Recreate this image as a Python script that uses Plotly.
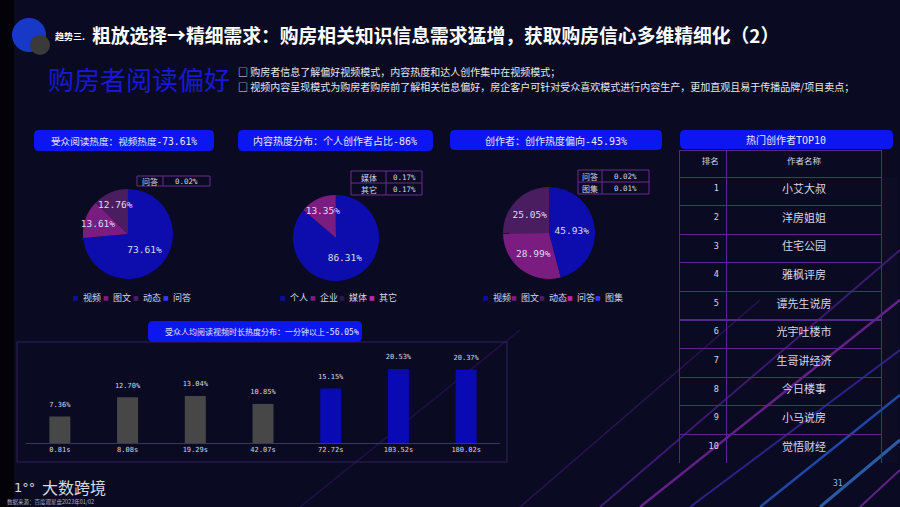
import plotly.graph_objects as go

# ---- data ----
pie1_labels = ["视频", "图文", "动态", "问答"]
pie1_values = [73.61, 13.61, 12.76, 0.02]

pie2_labels = ["个人", "企业", "媒体", "其它"]
pie2_values = [86.31, 13.35, 0.17, 0.17]

pie3_labels = ["视频", "图文", "动态", "问答", "图集"]
pie3_values = [45.93, 28.99, 25.05, 0.02, 0.01]

dur_labels = ["0.81s", "8.08s", "19.29s", "42.07s", "72.72s", "103.52s", "180.02s"]
dur_seconds = [0.81, 8.08, 19.29, 42.07, 72.72, 103.52, 180.02]
dur_values = [7.36, 12.70, 13.04, 10.85, 15.15, 20.53, 20.37]

top_rank = ["1", "2", "3", "4", "5", "6", "7", "8", "9", "10"]
top_names = ["小艾大叔", "洋房姐姐", "住宅公园", "雅枫评房", "谭先生说房",
             "光宇吐楼市", "生哥讲经济", "今日楼事", "小马说房", "觉悟财经"]

# ---- styles ----
W, H = 900, 507
BG = "#0a0b22"
BOX = "#0b16f0"
LINE = "#55288a"
TXT = "#d6d6ea"
MONO = "DejaVu Sans Mono, Noto Sans CJK SC"
CJK = "Noto Sans CJK SC"

slice_colors = {"视频": "#0d0dae", "图文": "#7b1c80", "动态": "#4a1c60",
                "问答": "#3535ff", "个人": "#0d0dae", "企业": "#7b1c80",
                "媒体": "#2a1850", "其它": "#c21fb8", "图集": "#3535ff"}
pie3_colors = ["#0d0dae", "#7b1c80", "#4a1c60", "#c21fb8", "#3535ff"]


def px(x):
    return x / W


def py(y):
    return 1 - y / H


def rrect(x0, y0, x1, y1, r=5):
    X0, X1, Y0, Y1 = px(x0), px(x1), py(y0), py(y1)
    rx, ry = r / W, r / H
    return (f"M{X0+rx},{Y0} L{X1-rx},{Y0} Q{X1},{Y0} {X1},{Y0-ry} "
            f"L{X1},{Y1+ry} Q{X1},{Y1} {X1-rx},{Y1} L{X0+rx},{Y1} "
            f"Q{X0},{Y1} {X0},{Y1+ry} L{X0},{Y0-ry} Q{X0},{Y0} {X0+rx},{Y0} Z")


fig = go.Figure()
shapes = []
annos = []


def text(x, y, s, size=9, color=TXT, family=CJK, xanchor="center", **kw):
    annos.append(dict(x=px(x), y=py(y), xref="paper", yref="paper", text=s,
                      showarrow=False, xanchor=xanchor, yanchor="middle",
                      font=dict(size=size, color=color, family=family), **kw))


# background decoration
shapes.append(dict(type="rect", xref="paper", yref="paper", x0=0, x1=px(14), y0=0, y1=1,
                   fillcolor="#020208", line_width=0, layer="below"))
streaks = [((600, 507), (900, 250), "#7a2ad0", 0.45, 2),
           ((640, 507), (900, 300), "#b030e0", 0.55, 2.5),
           ((690, 507), (900, 350), "#5a3cff", 0.45, 2),
           ((760, 507), (900, 395), "#3070ff", 0.6, 2.5),
           ((820, 507), (900, 440), "#4090ff", 0.6, 3),
           ((520, 507), (760, 300), "#6a20b0", 0.35, 1.5),
           ((300, 507), (520, 330), "#4a1890", 0.35, 1.5),
           ((860, 507), (900, 470), "#a030d0", 0.6, 2)]
for (xa, ya), (xb, yb), c, op, w in streaks:
    shapes.append(dict(type="line", xref="paper", yref="paper", x0=px(xa), y0=py(ya),
                       x1=px(xb), y1=py(yb), line=dict(color=c, width=w),
                       opacity=op, layer="below"))

# header
shapes.append(dict(type="circle", xref="paper", yref="paper", x0=px(12), x1=px(46),
                   y0=py(52), y1=py(18), fillcolor="#1838c8", line_width=0))
shapes.append(dict(type="circle", xref="paper", yref="paper", x0=px(30), x1=px(50),
                   y0=py(55), y1=py(35), fillcolor="#3a3a3a", line_width=0))
text(53, 36, "<b>趋势三.</b>", size=9, color="#ffffff", xanchor="left")
text(90, 34, "<b>粗放选择→精细需求：购房相关知识信息需求猛增，获取购房信心多维精细化（2）</b>",
     size=18.8, color="#ffffff", xanchor="left")
text(46, 78, "购房者阅读偏好", size=26, color="#1818d8", xanchor="left")
text(236, 71, "□ 购房者信息了解偏好视频模式，内容热度和达人创作集中在视频模式；",
     size=10, color="#e8e8f0", xanchor="left")
text(236, 86.5, "□ 视频内容呈现模式为购房者购房前了解相关信息偏好，房企客户可针对受众喜欢模式进行内容生产，更加直观且易于传播品牌/项目卖点；",
     size=10, color="#e8e8f0", xanchor="left")

# title boxes
boxes = [((34, 130, 214, 151), "受众阅读热度：视频热度-73.61%", 124, 9.6),
         ((238, 130, 433, 151), "内容热度分布：个人创作者占比-86%", 335, 10),
         ((450, 130, 662, 150), "创作者：创作热度偏向-45.93%", 556, 10),
         ((680, 130, 893, 149), "热门创作者TOP10", 786, 10),
         ((148, 321, 362, 342), "受众人均阅读视频时长热度分布：一分钟以上-56.05%", 262, 8)]
for (x0, y0, x1, y1), s, xc, fs in boxes:
    shapes.append(dict(type="path", xref="paper", yref="paper", path=rrect(x0, y0, x1, y1),
                       fillcolor=BOX, line_width=0))
    text(xc, (y0 + y1) / 2 + 0.5, s, size=fs, color="#e8e8ff", family=MONO)

# pies
pies = [(pie1_labels, pie1_values, [slice_colors[l] for l in pie1_labels], (128, 234, 45)),
        (pie2_labels, pie2_values, [slice_colors[l] for l in pie2_labels], (336, 238, 43)),
        (pie3_labels, pie3_values, pie3_colors, (549, 233, 46))]
for labels, values, colors, (cx, cy, r) in pies:
    fig.add_trace(go.Pie(
        labels=labels, values=values, sort=False, direction="clockwise", rotation=0,
        marker=dict(colors=colors, line=dict(width=0)),
        text=[f"{v:.2f}%" if v > 1 else "" for v in values], textinfo="text",
        textposition="inside", insidetextorientation="horizontal",
        textfont=dict(family=MONO, size=9.5, color="#dcdcf5"),
        domain=dict(x=[px(cx - r), px(cx + r)], y=[py(cy + r), py(cy - r)]),
        showlegend=False, hoverinfo="label+value"))

# legends under the pies
legend_start = [76, 283, 486]
legend_step = [30, 29.5, 28]
for (labels, values, colors, _), x0, step in zip(pies, legend_start, legend_step):
    for i, (lab, c) in enumerate(zip(labels, colors)):
        xm = x0 + i * step
        text(xm, 297, "■", size=6, color=c, family="DejaVu Sans")
        text(xm + 5, 297, lab, size=9, color=TXT, xanchor="left")

# small-value tables next to the pies
mini = [((137, 176, 163, 210, 186), [pie1_labels[3]], [pie1_values[3]]),
        ((351, 171, 386, 422, 195), pie2_labels[2:], pie2_values[2:]),
        ((578, 170, 602, 649, 194), pie3_labels[3:], pie3_values[3:])]
for (x0, y0, xd, x1, y1), labs, vals in mini:
    shapes.append(dict(type="rect", xref="paper", yref="paper", x0=px(x0), x1=px(x1),
                       y0=py(y1), y1=py(y0), line=dict(color="#6a2a90", width=1)))
    shapes.append(dict(type="line", xref="paper", yref="paper", x0=px(xd), x1=px(xd),
                       y0=py(y1), y1=py(y0), line=dict(color="#6a2a90", width=1)))
    rh = (y1 - y0) / len(labs)
    for k, (lab, v) in enumerate(zip(labs, vals)):
        if k:
            shapes.append(dict(type="line", xref="paper", yref="paper", x0=px(x0), x1=px(x1),
                               y0=py(y0 + k * rh), y1=py(y0 + k * rh),
                               line=dict(color="#6a2a90", width=1)))
        yc = y0 + (k + 0.5) * rh
        text((x0 + xd) / 2, yc, lab, size=8, color=TXT)
        text((xd + x1) / 2, yc, f"{v:.2f}%", size=7.5, color=TXT, family=MONO)

# bar chart
bar_colors = ["#0a0ab4" if s > 60 else "#474747" for s in dur_seconds]
shapes.append(dict(type="rect", xref="paper", yref="paper", x0=px(17), x1=px(507),
                   y0=py(462), y1=py(342), line=dict(color="rgba(100,60,150,0.45)", width=1),
                   layer="below"))
fig.add_trace(go.Bar(
    x=dur_labels, y=dur_values, marker=dict(color=bar_colors, line_width=0),
    width=0.31, showlegend=False, hoverinfo="x+y", xaxis="x", yaxis="y"))
# value labels: an invisible marker lifts the text a little above each bar
fig.add_trace(go.Scatter(
    x=dur_labels, y=dur_values, mode="markers+text", text=[f"{v:.2f}%" for v in dur_values],
    marker=dict(size=11, color="rgba(0,0,0,0)"),
    textposition="top center", cliponaxis=False,
    textfont=dict(family=MONO, size=7, color=TXT),
    showlegend=False, hoverinfo="skip", xaxis="x", yaxis="y"))

# top-10 table
fig.add_trace(go.Table(
    domain=dict(x=[px(679), px(882)], y=[py(463), py(150)]),
    columnwidth=[48, 155],
    header=dict(values=["排名", "作者名称"], height=27, align=["right", "center"],
                fill_color="rgba(0,0,0,0)", line=dict(color=LINE, width=1),
                font=dict(family=CJK, size=8.5, color=TXT)),
    cells=dict(values=[top_rank, top_names], height=28.6, align=["right", "center"],
               fill_color="rgba(0,0,0,0)", line=dict(color=LINE, width=1),
               font=dict(family=[MONO, CJK], size=[8.5, 11], color=TXT))))

# footer
text(12, 487, "1°°", size=13, color="#d8d8e0", family="DejaVu Sans", xanchor="left")
text(40, 487, "大数跨境", size=16, color="#d8d8e0", xanchor="left")
text(5, 502, "数据来源：百度观星盘2023年01/02", size=5.5, color="#b0b0c0", xanchor="left")
text(838, 483, "31", size=8, color="#8ab0ff", family=MONO)

fig.update_layout(
    width=W, height=H, margin=dict(l=0, r=0, t=0, b=0),
    paper_bgcolor=BG, plot_bgcolor="rgba(0,0,0,0)",
    shapes=shapes, annotations=annos,
    uniformtext=dict(minsize=8.5, mode="show"),
    xaxis=dict(domain=[px(26), px(500)], showline=True, linecolor="#3a3a58", linewidth=1,
               showgrid=False, ticks="", tickfont=dict(family=MONO, size=7, color=TXT),
               fixedrange=True),
    yaxis=dict(domain=[py(443), py(353)], range=[0, 25], visible=False, fixedrange=True),
    bargap=0.69,
)

fig.write_html("out.html", config=dict(displayModeBar=False),
               post_script="document.body.style.margin='0';document.body.style.overflow='hidden';")
